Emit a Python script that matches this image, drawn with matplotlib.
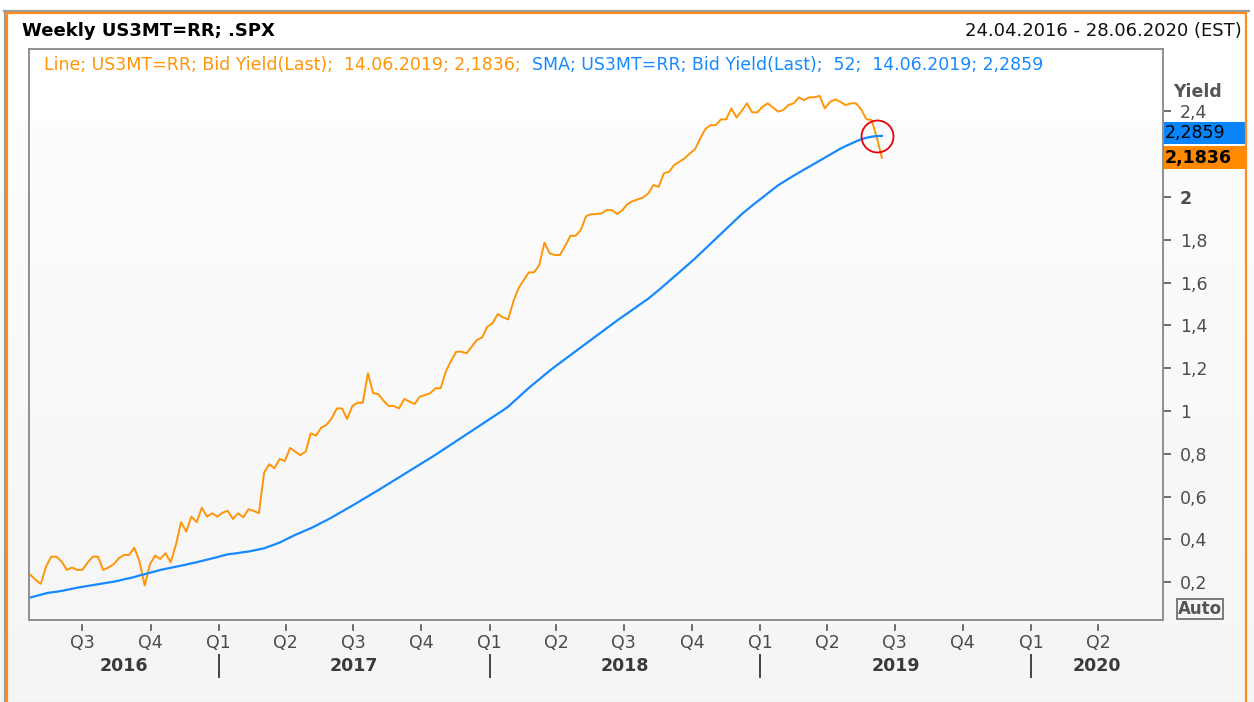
import matplotlib.pyplot as plt
import matplotlib.dates as mdates
import numpy as np
import pandas as pd
from matplotlib.lines import Line2D
from matplotlib.patches import Rectangle
from matplotlib.transforms import blended_transform_factory

W, H = 1254, 702

# weekly bid yield (last), 22.04.2016 .. 14.06.2019
yield_last = [
    0.234, 0.210, 0.192, 0.273, 0.319, 0.319, 0.296, 0.257, 0.268, 0.257,
    0.257, 0.291, 0.319, 0.319, 0.257, 0.268, 0.283, 0.311, 0.327, 0.327,
    0.361, 0.296, 0.184, 0.283, 0.324, 0.308, 0.335, 0.293, 0.374, 0.480,
    0.436, 0.506, 0.480, 0.548, 0.506, 0.522, 0.506, 0.525, 0.533, 0.495,
    0.522, 0.503, 0.541, 0.533, 0.522, 0.712, 0.751, 0.732, 0.776, 0.766,
    0.827, 0.810, 0.794, 0.810, 0.896, 0.885, 0.922, 0.935, 0.965,
    1.012, 1.012, 0.963, 1.023, 1.039, 1.039, 1.176, 1.083, 1.079, 1.048,
    1.023, 1.023, 1.012, 1.056, 1.044, 1.033, 1.067, 1.075, 1.083, 1.106,
    1.106, 1.184, 1.234, 1.277, 1.277, 1.270, 1.301, 1.332, 1.344, 1.394,
    1.410, 1.453, 1.438, 1.428, 1.511, 1.573, 1.612, 1.648, 1.648, 1.682,
    1.787, 1.737, 1.729, 1.729, 1.773, 1.819, 1.819, 1.846,
    1.910, 1.920, 1.920, 1.924, 1.939, 1.939, 1.921, 1.939, 1.967, 1.981,
    1.989, 1.998, 2.017, 2.056, 2.048, 2.111, 2.118, 2.150, 2.165, 2.181,
    2.204, 2.223, 2.274, 2.318, 2.336, 2.336, 2.363, 2.363, 2.414, 2.372,
    2.403, 2.438, 2.396, 2.396, 2.422, 2.438, 2.419, 2.399, 2.407, 2.430,
    2.438, 2.466, 2.453, 2.466, 2.466, 2.473, 2.414, 2.445, 2.456, 2.445,
    2.430, 2.438, 2.438, 2.410, 2.364, 2.360, 2.280, 2.1836,
]

# 52-week simple moving average
sma52 = [
    0.128, 0.135, 0.141, 0.148, 0.152, 0.155, 0.159, 0.164, 0.169, 0.174,
    0.178, 0.182, 0.186, 0.190, 0.194, 0.198, 0.202, 0.207, 0.213, 0.218,
    0.224, 0.231, 0.237, 0.244, 0.250, 0.257, 0.262, 0.267, 0.272, 0.277,
    0.282, 0.288, 0.293, 0.299, 0.305, 0.311, 0.317, 0.324, 0.330, 0.333,
    0.336, 0.340, 0.343, 0.348, 0.353, 0.358, 0.367, 0.376, 0.385, 0.397,
    0.409, 0.421, 0.431, 0.442, 0.452, 0.464, 0.477, 0.489, 0.502, 0.516,
    0.530, 0.544, 0.558, 0.572, 0.587, 0.601, 0.616, 0.630, 0.645, 0.660,
    0.675, 0.690, 0.705, 0.720, 0.735, 0.750, 0.765, 0.780, 0.795, 0.811,
    0.827, 0.843, 0.859, 0.875, 0.891, 0.907, 0.923, 0.939, 0.955, 0.971,
    0.987, 1.003, 1.020, 1.042, 1.064, 1.086, 1.108, 1.128, 1.148, 1.168,
    1.188, 1.207, 1.225, 1.243, 1.261, 1.279, 1.297, 1.315, 1.333, 1.351,
    1.369, 1.387, 1.405, 1.423, 1.440, 1.457, 1.474, 1.491, 1.508, 1.525,
    1.545, 1.565, 1.586, 1.607, 1.628, 1.649, 1.670, 1.691, 1.713, 1.736,
    1.759, 1.782, 1.805, 1.828, 1.851, 1.874, 1.897, 1.920, 1.940, 1.960,
    1.979, 1.998, 2.017, 2.036, 2.055, 2.070, 2.085, 2.100, 2.114, 2.128,
    2.142, 2.156, 2.170, 2.184, 2.198, 2.212, 2.226, 2.238, 2.249, 2.260,
    2.270, 2.277, 2.282, 2.285, 2.2859,
]

dates = pd.date_range('2016-04-22', periods=len(yield_last), freq='7D')

quarter_dates = pd.to_datetime([
    '2016-07-01', '2016-10-01', '2017-01-01', '2017-04-01', '2017-07-01',
    '2017-10-01', '2018-01-01', '2018-04-01', '2018-07-01', '2018-10-01',
    '2019-01-01', '2019-04-01', '2019-07-01', '2019-10-01', '2020-01-01',
    '2020-04-01'])
quarter_labels = ['Q3', 'Q4', 'Q1', 'Q2', 'Q3', 'Q4', 'Q1', 'Q2', 'Q3', 'Q4',
                  'Q1', 'Q2', 'Q3', 'Q4', 'Q1', 'Q2']
years = [2016, 2017, 2018, 2019, 2020]

y_ticks = [0.2, 0.4, 0.6, 0.8, 1.0, 1.2, 1.4, 1.6, 1.8, 2.0, 2.2, 2.4]

ORANGE = '#ff9506'
BLUE = '#1689ff'
FS = 12.5


def fx(px):
    return px / W


def fy(py):
    return 1 - py / H


fig = plt.figure(figsize=(W / 100, H / 100), dpi=100)
fig.patch.set_facecolor('white')

# soft vertical gradient behind everything
bg = fig.add_axes([0, 0, 1, 1], zorder=-10)
bg.axis('off')
shade = np.ones(H)
shade[121:] = np.linspace(0.988, 0.957, H - 121)
bg.imshow(np.tile(shade[:, None], (1, 8)), cmap='gray', vmin=0, vmax=1, aspect='auto',
          extent=[0, 1, 0, 1], interpolation='nearest')

# frame: grey outer line + orange panel border
fig.add_artist(Line2D([fx(4), fx(1249)], [fy(10.5), fy(10.5)], color='#9c9c9c', lw=1.6))
fig.add_artist(Line2D([fx(4.5), fx(4.5)], [fy(10.5), 0], color='#9c9c9c', lw=1.6))
fig.add_artist(Line2D([fx(7), fx(1246), fx(1246)], [fy(13), fy(13), 0], color='#ff8c1a', lw=1.6))
fig.add_artist(Line2D([fx(7), fx(7)], [fy(13), 0], color='#ff8c1a', lw=1.6))

fig.text(fx(22), fy(31), 'Weekly US3MT=RR; .SPX', fontsize=13, fontweight='bold',
         color='black', va='center', ha='left')
fig.text(fx(1242), fy(31), '24.04.2016 - 28.06.2020 (EST)', fontsize=13,
         color='#111111', va='center', ha='right')

ax = fig.add_axes([fx(29), fy(620), fx(1163) - fx(29), fy(49) - fy(620)])
ax.set_facecolor('none')

ax.plot(dates, yield_last, color=ORANGE, lw=1.4, zorder=3)
ax.plot(dates, sma52, color=BLUE, lw=1.6, zorder=3)
ax.plot(dates[-2], sma52[-1], marker='o', ms=23, mfc='none', mec='#e8000b', mew=1.3,
        zorder=4, clip_on=False)

ax.set_xlim(pd.Timestamp('2016-04-20'), pd.Timestamp('2020-06-27'))
ax.set_ylim(0.023, 2.692)

for s in ax.spines.values():
    s.set_color('#8f8f8f')
    s.set_linewidth(1.4)

ax.set_xticks([])
ax.yaxis.tick_right()
ax.set_yticks(y_ticks)
# 2,2 sits under the last-value box in the original, so it stays blank
ax.set_yticklabels([('' if abs(v - 2.2) < 1e-9 else
                     (f'{v:.1f}'.replace('.', ',') if v % 1 else f'{v:.0f}')) for v in y_ticks])
ax.tick_params(axis='y', direction='out', length=6, width=1.2, color='#555555',
               labelcolor='#4d4d4d', labelsize=FS, pad=6)
for lab in ax.get_yticklabels():
    if lab.get_text() == '2':
        lab.set_fontweight('bold')

# legend line inside the plot
t1 = fig.text(fx(44), fy(65), 'Line; US3MT=RR; Bid Yield(Last);  14.06.2019; 2,1836;',
              fontsize=FS, color=ORANGE, va='center', ha='left')
ax.annotate('  SMA; US3MT=RR; Bid Yield(Last);  52;  14.06.2019; 2,2859',
            xy=(1, 0.5), xycoords=t1, va='center', ha='left', fontsize=FS, color=BLUE)

# right axis extras
fig.text(fx(1173), fy(92), 'Yield', fontsize=FS, fontweight='bold', color='#555555',
         va='center', ha='left')
fig.text(fx(1200), fy(609), 'Auto', fontsize=12, fontweight='bold', color='#555555',
         va='center', ha='center',
         bbox=dict(boxstyle='square,pad=0.06', fc='none', ec='#666666', lw=1.2))

# last-value boxes
tr = blended_transform_factory(fig.transFigure, ax.transData)
box_h = 0.106
for val, col, bold, shift in [(sma52[-1], '#0a84fa', False, 0.013),
                              (yield_last[-1], '#ff8a00', True, 0.0)]:
    ax.add_patch(Rectangle((fx(1164), val + shift - box_h / 2), fx(1245) - fx(1164), box_h,
                           transform=tr, fc=col, ec='none', clip_on=False, zorder=6))
    ax.text(fx(1165), val + shift, f'{val:.4f}'.replace('.', ','), transform=tr,
            fontsize=FS, fontweight='bold' if bold else 'normal', color='black',
            va='center', ha='left', zorder=7, clip_on=False)

# time axis: quarters, year separators, year names
tx = blended_transform_factory(ax.transData, fig.transFigure)
for d, lab in zip(quarter_dates, quarter_labels):
    ax.add_line(Line2D([d, d], [fy(625), fy(630)], transform=tx, color='#555555',
                       lw=1.2, clip_on=False))
    ax.text(d, fy(643), lab, transform=tx, fontsize=FS, color='#4a4a4a',
            ha='center', va='center', clip_on=False)

x0, x1 = ax.get_xlim()
for yr in years:
    start = pd.Timestamp(f'{yr}-01-01')
    end = pd.Timestamp(f'{yr + 1}-01-01')
    if yr > years[0]:
        ax.add_line(Line2D([start, start], [fy(655), fy(677)], transform=tx,
                           color='#444444', lw=1.4, clip_on=False))
    lo = max(mdates.date2num(start), x0)
    hi = min(mdates.date2num(end), x1)
    ax.text((lo + hi) / 2, fy(666), str(yr), transform=tx, fontsize=FS,
            fontweight='bold', color='#3a3a3a', ha='center', va='center', clip_on=False)

fig.savefig('out.png', dpi=100)
